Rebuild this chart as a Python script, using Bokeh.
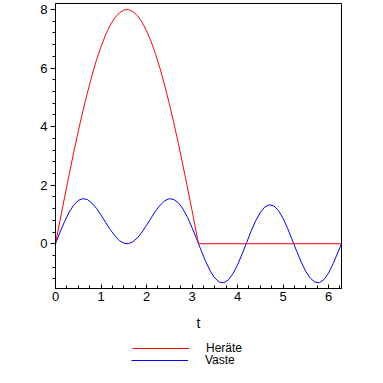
from bokeh.plotting import figure
from bokeh.models import Range1d, FixedTicker, Legend, LegendItem
from bokeh.layouts import column
from bokeh.embed import file_html
from bokeh.resources import INLINE

# Heräte (excitation) samples
t_herate = [0.0, 0.1, 0.2, 0.3, 0.4, 0.5, 0.6, 0.7, 0.8, 0.9, 1.0, 1.1, 1.2, 1.3, 1.4,
            1.5, 1.6, 1.7, 1.8, 1.9, 2.0, 2.1, 2.2, 2.3, 2.4, 2.5, 2.6, 2.7, 2.8, 2.9,
            3.0, 3.1, 3.1416, 6.2832]
herate = [0.0, 0.80, 1.59, 2.36, 3.12, 3.84, 4.52, 5.15, 5.74, 6.27, 6.73, 7.13, 7.46,
          7.71, 7.88, 7.98, 8.00, 7.93, 7.79, 7.57, 7.27, 6.91, 6.47, 5.97, 5.40, 4.79,
          4.12, 3.42, 2.68, 1.91, 1.13, 0.33, 0.0, 0.0]

# Vaste (response) samples
t_vaste = [0.0, 0.1, 0.2, 0.3, 0.4, 0.5, 0.6, 0.7, 0.8, 0.9, 1.0, 1.1, 1.2, 1.3, 1.4,
           1.5, 1.6, 1.7, 1.8, 1.9, 2.0, 2.1, 2.2, 2.3, 2.4, 2.5, 2.6, 2.7, 2.8, 2.9,
           3.0, 3.1, 3.1416, 3.2, 3.3, 3.4, 3.5, 3.6, 3.7, 3.8, 3.9, 4.0, 4.1, 4.2, 4.3,
           4.4, 4.5, 4.6, 4.7, 4.8, 4.9, 5.0, 5.1, 5.2, 5.3, 5.4, 5.5, 5.6, 5.7, 5.8,
           5.9, 6.0, 6.1, 6.2, 6.2832]
vaste = [0.0, 0.40, 0.76, 1.08, 1.32, 1.48, 1.54, 1.51, 1.39, 1.21, 0.98, 0.73, 0.49,
         0.28, 0.11, 0.02, 0.00, 0.07, 0.20, 0.40, 0.63, 0.88, 1.12, 1.32, 1.47, 1.54,
         1.51, 1.40, 1.19, 0.90, 0.55, 0.17, 0.0, -0.23, -0.61, -0.93, -1.17, -1.31,
         -1.33, -1.23, -1.02, -0.72, -0.35, 0.04, 0.44, 0.79, 1.07, 1.26, 1.33, 1.29,
         1.13, 0.87, 0.52, 0.14, -0.26, -0.63, -0.95, -1.18, -1.31, -1.33, -1.22,
         -1.00, -0.68, -0.31, 0.0]

series_labels = ["Heräte", "Vaste"]

x_major = [0, 1, 2, 3, 4, 5, 6]
y_major = [0, 2, 4, 6, 8]
x_minor = [i * 0.25 for i in range(0, 26)]
y_minor = [-1.2 + i * 0.4 for i in range(0, 25)]

FONT = "Liberation Sans"
RED = "#ff0000"
BLUE = "#0000ff"

p = figure(width=383, height=338, output_backend="svg", toolbar_location=None,
           x_range=Range1d(0, 6.2832), y_range=Range1d(-1.528, 8.205),
           min_border_left=55, min_border_right=42, min_border_top=3,
           min_border_bottom=50)
p.grid.visible = False
p.outline_line_color = "black"
p.outline_line_width = 1
p.outline_line_alpha = 1.0
p.background_fill_color = "white"
p.border_fill_color = "white"

p.line(t_vaste, vaste, line_color=BLUE, line_width=1)
p.line(t_herate, herate, line_color=RED, line_width=1)

xa = p.xaxis[0]
xa.ticker = FixedTicker(ticks=x_major, minor_ticks=x_minor)
xa.major_tick_in = 4
xa.major_tick_out = 0
xa.minor_tick_in = 3
xa.minor_tick_out = 0
xa.major_label_standoff = 3
xa.major_label_text_font = FONT
xa.major_label_text_font_size = "13px"
xa.major_label_text_color = "black"
xa.axis_line_color = "black"
xa.major_tick_line_color = "black"
xa.minor_tick_line_color = "black"
xa.axis_label = "t"
xa.axis_label_text_font = FONT
xa.axis_label_text_font_size = "14px"
xa.axis_label_text_font_style = "normal"
xa.axis_label_text_color = "black"
xa.axis_label_standoff = 11

ya = p.yaxis[0]
ya.ticker = FixedTicker(ticks=y_major, minor_ticks=y_minor)
ya.major_tick_in = 0
ya.major_tick_out = 5
ya.minor_tick_in = 0
ya.minor_tick_out = 3
ya.major_label_standoff = 3
ya.major_label_text_font = FONT
ya.major_label_text_font_size = "13px"
ya.major_label_text_color = "black"
ya.axis_line_color = "black"
ya.major_tick_line_color = "black"
ya.minor_tick_line_color = "black"

# legend strip below the plot (its frame is aligned with the main frame)
lg_fig = figure(width=383, height=45, output_backend="svg", toolbar_location=None,
                x_range=Range1d(0, 1), y_range=Range1d(0, 1),
                x_axis_type=None, y_axis_type=None,
                min_border=0, min_border_left=0, min_border_right=0,
                min_border_top=0, min_border_bottom=0)
lg_fig.grid.visible = False
lg_fig.outline_line_color = None
lg_fig.background_fill_color = "white"
lg_fig.border_fill_color = "white"
# legend key renderers: a single point outside the strip's view, so nothing shows
key_h = lg_fig.line([5], [5], line_color=RED, line_width=1)
key_v = lg_fig.line([5], [5], line_color=BLUE, line_width=1)


def make_legend(label, renderer, loc):
    return Legend(items=[LegendItem(label=label, renderers=[renderer], index=0)],
                  location=loc, orientation="vertical",
                  glyph_width=57, glyph_height=16, label_height=16,
                  label_standoff=17, padding=0, margin=0, spacing=0,
                  border_line_color=None, background_fill_alpha=0,
                  label_text_font=FONT, label_text_font_size="12px",
                  label_text_color="black")


lg_fig.add_layout(make_legend(series_labels[0], key_h, (77, 27)))
lg_fig.add_layout(make_legend(series_labels[1], key_v, (76, 15)))

layout = column(p, lg_fig, spacing=0)
open("out.html", "w").write(file_html(layout, INLINE))
